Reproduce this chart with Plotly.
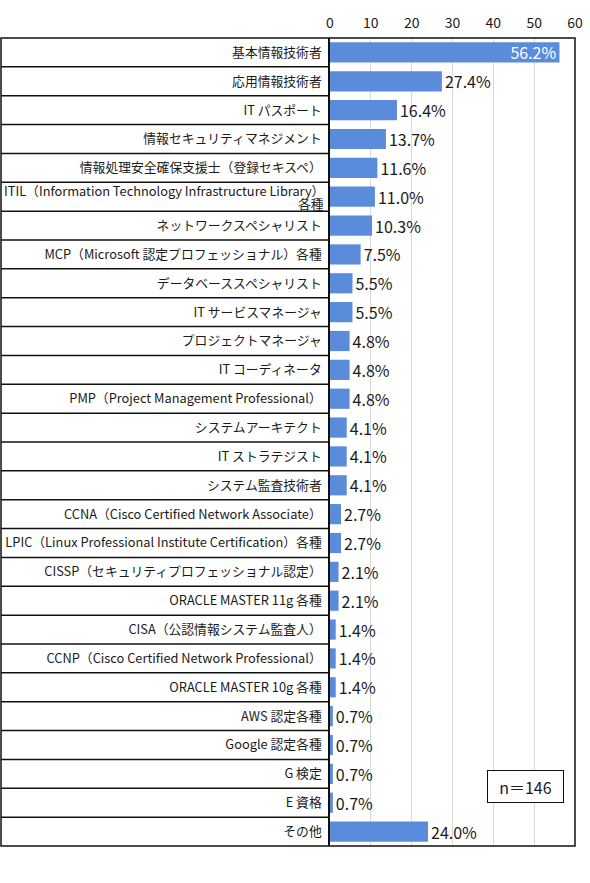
import plotly.graph_objects as go

categories = [
    "基本情報技術者",
    "応用情報技術者",
    "IT パスポート",
    "情報セキュリティマネジメント",
    "情報処理安全確保支援士（登録セキスペ）",
    "ITIL（Information Technology Infrastructure Library）<br>各種",
    "ネットワークスペシャリスト",
    "MCP（Microsoft 認定プロフェッショナル）各種",
    "データベーススペシャリスト",
    "IT サービスマネージャ",
    "プロジェクトマネージャ",
    "IT コーディネータ",
    "PMP（Project Management Professional）",
    "システムアーキテクト",
    "IT ストラテジスト",
    "システム監査技術者",
    "CCNA（Cisco Certified Network Associate）",
    "LPIC（Linux Professional Institute Certification）各種",
    "CISSP（セキュリティプロフェッショナル認定）",
    "ORACLE MASTER 11g 各種",
    "CISA（公認情報システム監査人）",
    "CCNP（Cisco Certified Network Professional）",
    "ORACLE MASTER 10g 各種",
    "AWS 認定各種",
    "Google 認定各種",
    "G 検定",
    "E 資格",
    "その他",
]
values = [56.2, 27.4, 16.4, 13.7, 11.6, 11.0, 10.3, 7.5, 5.5, 5.5, 4.8, 4.8, 4.8,
          4.1, 4.1, 4.1, 2.7, 2.7, 2.1, 2.1, 1.4, 1.4, 1.4, 0.7, 0.7, 0.7, 0.7, 24.0]
x_ticks = [0, 10, 20, 30, 40, 50, 60]
n_label = "n＝146"

FONT = "Noto Sans CJK JP"
LABEL_SIZE = 12.8
W, H = 590, 883
ML, MR, MT, MB = 330, 15, 38, 37
plot_w = W - ML - MR

ids = list(range(len(categories)))
texts = [f"{v:.1f}%" for v in values]
positions = ["inside" if v == max(values) else "outside" for v in values]
text_colors = ["white" if p == "inside" else "#1a1a1a" for p in positions]

fig = go.Figure(go.Bar(
    x=values, y=ids, orientation="h",
    marker=dict(color="#5B8CDB", line=dict(width=0)),
    text=texts, textposition=positions, insidetextanchor="end",
    constraintext="none",
    textfont=dict(family=FONT, size=16, color=text_colors),
    cliponaxis=False,
))

# multi-line labels drawn as separate lines with tight spacing
tick_text = []
annotations = []
for i, lab in enumerate(categories):
    if "<br>" in lab:
        tick_text.append("")
        lines = lab.split("<br>")
        n = len(lines)
        for k, line in enumerate(lines):
            annotations.append(dict(
                text=line, xref="paper", yref="y", x=0, y=i,
                xanchor="right", yanchor="middle", xshift=-4,
                yshift=(n - 1) / 2 * 13 - k * 13, showarrow=False,
                font=dict(family=FONT, size=LABEL_SIZE, color="#1a1a1a")))
    else:
        tick_text.append(lab)

annotations.append(dict(text=n_label, xref="paper", yref="paper",
                        x=0.797, y=0.074, xanchor="center", yanchor="middle",
                        showarrow=False, width=71, height=27,
                        font=dict(family=FONT, size=16, color="#1a1a1a"),
                        bordercolor="#111", borderwidth=1, borderpad=2,
                        bgcolor="white"))

left_paper = -(ML - 1) / plot_w
shapes = []
for i in range(len(categories) - 1):
    shapes.append(dict(type="line", xref="paper", yref="y",
                       x0=left_paper, x1=0, y0=i + 0.5, y1=i + 0.5,
                       line=dict(color="#111", width=1.5)))
shapes.append(dict(type="rect", xref="paper", yref="paper",
                   x0=left_paper, x1=1, y0=0, y1=1,
                   line=dict(color="#111", width=1.5)))

fig.update_layout(
    width=W, height=H,
    margin=dict(l=ML, r=MR, t=MT, b=MB, autoexpand=False),
    paper_bgcolor="white", plot_bgcolor="white",
    showlegend=False,
    bargap=0.3,
    font=dict(family=FONT, color="#1a1a1a"),
    shapes=shapes,
    annotations=annotations,
    xaxis=dict(range=[0, 60], side="top", tickvals=x_ticks, automargin=False,
               tickfont=dict(family=FONT, size=14, color="#1a1a1a"),
               showgrid=True, gridcolor="#d9d9d9", gridwidth=1,
               zeroline=False, showline=False, ticks="", fixedrange=True,
               ticklabelstandoff=6),
    yaxis=dict(tickvals=ids, ticktext=tick_text, autorange=False, automargin=False,
               range=[len(categories) - 0.5, -0.5],
               tickfont=dict(family=FONT, size=LABEL_SIZE, color="#1a1a1a"),
               showline=True, linecolor="#111", linewidth=1.5,
               showgrid=False, zeroline=False, ticks="", ticklabelstandoff=4,
               fixedrange=True),
)

fig.write_html("out.html",
               config={"displayModeBar": False},
               post_script="document.body.style.margin='0';document.body.style.padding='0';")
